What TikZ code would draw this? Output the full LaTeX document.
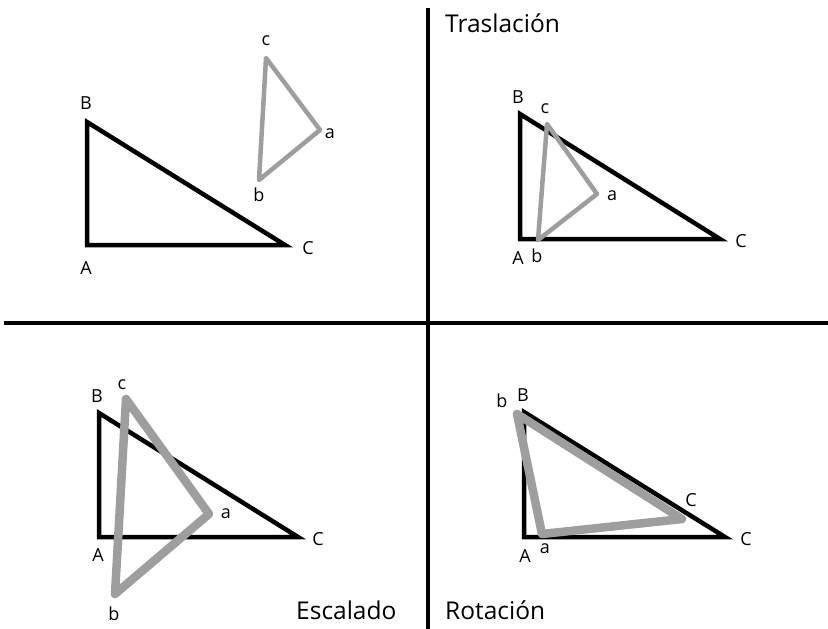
\documentclass[tikz,border=0pt]{standalone}
\usepackage{fontspec}
\setmainfont{Open Sans}
\usetikzlibrary{positioning}

\begin{document}
\begin{tikzpicture}[x=1pt, y=-1pt,
    axis/.style={draw=black, line width=4pt},
    orig/.style={draw=black, line width=4.5pt, line join=miter},
    img/.style={draw=black!38, line width=4.5pt, line join=round},
    imgbig/.style={draw=black!38, line width=8.5pt, line join=round},
    lbl/.style={inner sep=0pt, font=\fontsize{18}{20}\selectfont},
    title/.style={inner sep=0pt, anchor=base west, font=\fontsize{24.5}{28}\selectfont}
  ]
  \useasboundingbox (0,0) rectangle (828,629);

  % axes
  \coordinate (xl) at (4,323);
  \coordinate (xr) at (828,323);
  \coordinate (yt) at (428,8);
  \coordinate (yb) at (428,629);
  \draw[axis] (xl) -- (xr);
  \draw[axis] (yt) -- (yb);

  % titles
  \node[title] (t1) at (445,32) {Traslación};
  \node[title] (t2) at (296,619) {Escalado};
  \node[title] (t3) at (445,619) {Rotación};

  % top left: original and image
  \coordinate (A1) at (87,245);
  \coordinate (B1) at (87,122);
  \coordinate (C1) at (285,245);
  \draw[orig] (A1) -- (B1) -- (C1) -- cycle;
  \coordinate (a1) at (320,130);
  \coordinate (b1) at (259,180);
  \coordinate (c1) at (266,58);
  \draw[img] (a1) -- (b1) -- (c1) -- cycle;
  \node[lbl] (lA1) at (86,268) {A};
  \node[lbl] (lB1) at (86,103) {B};
  \node[lbl] (lC1) at (308,248) {C};
  \node[lbl] (la1) at (330,134) {a};
  \node[lbl] (lb1) at (259,195) {b};
  \node[lbl] (lc1) at (266,41) {c};

  % top right: translation
  \coordinate (A2) at (520,239);
  \coordinate (B2) at (520,114);
  \coordinate (C2) at (720,239);
  \draw[orig] (A2) -- (B2) -- (C2) -- cycle;
  \coordinate (a2) at (597,194);
  \coordinate (b2) at (538,240);
  \coordinate (c2) at (547,124);
  \draw[img] (a2) -- (b2) -- (c2) -- cycle;
  \node[lbl] (lA2) at (518,258) {A};
  \node[lbl] (lB2) at (518,97) {B};
  \node[lbl] (lC2) at (741,241) {C};
  \node[lbl] (la2) at (612,196) {a};
  \node[lbl] (lb2) at (537,256) {b};
  \node[lbl] (lc2) at (545,109) {c};

  % bottom left: scaling
  \coordinate (A3) at (99,537);
  \coordinate (B3) at (99,413);
  \coordinate (C3) at (298,537);
  \draw[orig] (A3) -- (B3) -- (C3) -- cycle;
  \coordinate (a3) at (209,514);
  \coordinate (b3) at (115,594);
  \coordinate (c3) at (126,399);
  \draw[imgbig] (a3) -- (b3) -- (c3) -- cycle;
  \node[lbl] (lA3) at (98,555) {A};
  \node[lbl] (lB3) at (97,396) {B};
  \node[lbl] (lC3) at (318,539) {C};
  \node[lbl] (la3) at (226,514) {a};
  \node[lbl] (lb3) at (114,614) {b};
  \node[lbl] (lc3) at (122,385) {c};

  % bottom right: rotation
  \coordinate (A4) at (524,537);
  \coordinate (B4) at (524,412);
  \coordinate (C4) at (725,537);
  \draw[orig] (A4) -- (B4) -- (C4) -- cycle;
  \coordinate (a4) at (542,534);
  \coordinate (b4) at (517,414);
  \coordinate (c4) at (682,519);
  \draw[imgbig] (a4) -- (b4) -- (c4) -- cycle;
  \node[lbl] (lA4) at (525,556) {A};
  \node[lbl] (lB4) at (523,395) {B};
  \node[lbl] (lC4) at (746,539) {C};
  \node[lbl] (la4) at (545,549) {a};
  \node[lbl] (lb4) at (502,401) {b};
  \node[lbl] (lc4) at (691,500) {C};
\end{tikzpicture}
\end{document}
